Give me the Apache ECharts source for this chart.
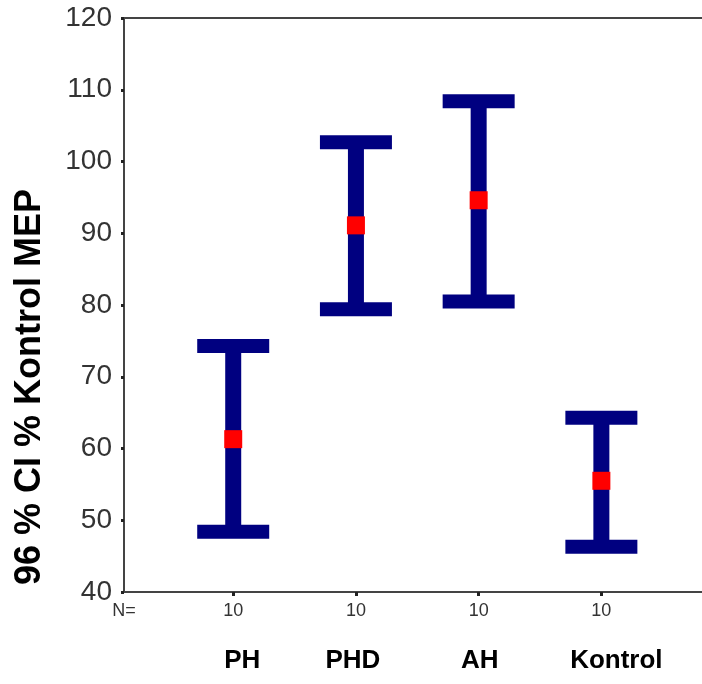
<!DOCTYPE html>
<html>
<head>
<meta charset="utf-8">
<script src="https://cdn.jsdelivr.net/npm/echarts@6/dist/echarts.min.js"></script>
<style>
  html, body { margin: 0; padding: 0; background: #fff; }
  .ci-chart { width: 702px; height: 684px; }
</style>
</head>
<body>
<div class="ci-chart"></div>
<script>
// data
const groups = ['PH', 'PHD', 'AH', 'Kontrol'];
const nValues = [10, 10, 10, 10];
const lower = [48.4, 79.4, 80.5, 46.3];
const upper = [74.3, 102.7, 108.4, 64.3];
const means = [61.3, 91.1, 94.6, 55.5];

(function () {
  let myChart = echarts.init(document.querySelector('.ci-chart'));

  // x position of each group = index + 1
  let positions = groups.map((g, i) => i + 1);
  let barData = groups.map((g, i) => [positions[i], lower[i], upper[i], means[i]]);

  // small nudge of the group names (they are not quite centred in the original)
  let shift = [9, -3, 1, 15];
  let rich = {};
  shift.forEach((s, i) => {
    rich['s' + i] = {
      fontFamily: 'Liberation Sans',
      fontWeight: 'bold',
      fontSize: 26,
      color: '#000',
      padding: s >= 0 ? [0, 0, 0, 2 * s] : [0, -2 * s, 0, 0]
    };
  });

  let xMin = 0.11, xMax = 4.82;
  let axisLine = { show: true, lineStyle: { color: '#444', width: 2 } };

  let option = {
    animation: false,
    grid: { left: 124, right: 0, top: 18, bottom: 92 },
    xAxis: [
      {
        type: 'value', min: xMin, max: xMax,
        axisLine: axisLine,
        splitLine: { show: false },
        axisTick: { show: true, length: 4, inside: false, customValues: positions,
          lineStyle: { color: '#222', width: 3 } },
        axisLabel: {
          customValues: [xMin].concat(positions),
          margin: 10,
          fontFamily: 'Liberation Sans',
          fontSize: 18,
          color: '#333',
          formatter: v => v < 0.5 ? 'N=' : String(nValues[Math.round(v) - 1])
        }
      },
      {
        type: 'value', min: xMin, max: xMax, position: 'bottom',
        axisLine: { show: false }, axisTick: { show: false }, splitLine: { show: false },
        axisLabel: {
          customValues: positions,
          margin: 56,
          formatter: v => {
            let i = Math.round(v) - 1;
            return '{s' + i + '|' + groups[i] + '}';
          },
          rich: rich
        }
      },
      {
        type: 'value', min: xMin, max: xMax, position: 'top',
        axisLine: axisLine, axisTick: { show: false }, axisLabel: { show: false },
        splitLine: { show: false }
      }
    ],
    yAxis: {
      type: 'value', min: 40, max: 120, interval: 10,
      name: '96 % CI % Kontrol MEP',
      nameLocation: 'middle',
      nameGap: 76,
      nameTextStyle: { fontFamily: 'Liberation Sans', fontWeight: 'bold', fontSize: 36, color: '#000',
        padding: [0, 164, 0, 0] },
      axisLine: axisLine,
      splitLine: { show: false },
      axisTick: { show: true, length: 3, lineStyle: { color: '#222', width: 3 } },
      axisLabel: { fontFamily: 'Liberation Sans', fontSize: 28, color: '#333', margin: 12 }
    },
    series: [{
      type: 'custom',
      xAxisIndex: 0,
      data: barData,
      renderItem: function (params, api) {
        let x = api.value(0);
        let lo = api.coord([x, api.value(1)]);
        let hi = api.coord([x, api.value(2)]);
        let mid = api.coord([x, api.value(3)]);
        let capW = 72, capH = 14, stemW = 16, dot = 18;
        let navy = { fill: '#000080' };
        return {
          type: 'group',
          children: [
            { type: 'rect', shape: { x: lo[0] - stemW / 2, y: hi[1], width: stemW, height: lo[1] - hi[1] }, style: navy },
            { type: 'rect', shape: { x: hi[0] - capW / 2, y: hi[1] - capH / 2, width: capW, height: capH }, style: navy },
            { type: 'rect', shape: { x: lo[0] - capW / 2, y: lo[1] - capH / 2, width: capW, height: capH }, style: navy },
            { type: 'rect', shape: { x: mid[0] - dot / 2, y: mid[1] - dot / 2, width: dot, height: dot }, style: { fill: '#ff0000' } }
          ]
        };
      }
    }]
  };

  myChart.setOption(option);
  window.addEventListener('resize', function () {
    myChart.resize();
  });
})();
</script>
</body>
</html>
